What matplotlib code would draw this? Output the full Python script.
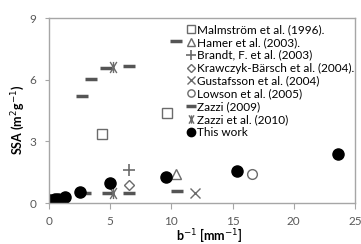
import numpy as np
import matplotlib
matplotlib.use("Agg")
import matplotlib.pyplot as plt
from matplotlib.path import Path

plt.rcParams['font.family'] = ['Lato', 'DejaVu Sans']

# data: b^-1 [mm^-1], SSA [m2/g]
malm_x, malm_y = [4.3, 9.6], [3.37, 4.38]
hamer_x, hamer_y = [10.4], [1.41]
brandt_x, brandt_y = [6.5], [1.6]
kraw_x, kraw_y = [6.5], [0.88]
gust_x, gust_y = [11.9], [0.47]
lowson_x, lowson_y = [16.6], [1.41]
zazzi09_x = [2.67, 3.4, 4.65, 6.56, 10.4, 2.94, 4.85, 6.56, 10.43]
zazzi09_y = [5.2, 6.05, 6.57, 6.67, 7.9, 0.47, 0.47, 0.47, 0.6]
zazzi10_x, zazzi10_y = [5.2, 5.2], [6.6, 0.47]
work_x = [0.08, 0.5, 0.76, 1.3, 2.53, 4.98, 9.56, 15.33, 23.6]
work_y = [0.15, 0.18, 0.21, 0.3, 0.55, 0.95, 1.28, 1.57, 2.38]

xticks = [0, 5, 10, 15, 20, 25]
yticks = [0, 3, 6, 9]

# vertical bar with an X through it
zh = Path([(0, -1), (0, 1), (-0.6, -1), (0.6, 1), (-0.6, 1), (0.6, -1)],
          [Path.MOVETO, Path.LINETO] * 3)

gr = '#6b6b6b'
fig = plt.figure(figsize=(3.61, 2.44), dpi=100)
ax = fig.add_axes([0.136, 0.168, 0.847, 0.758])

ax.plot(malm_x, malm_y, 's', ms=7, mfc='none', mec=gr, mew=1, ls='none', label='Malmstr\u00f6m et al. (1996).')
ax.plot(hamer_x, hamer_y, '^', ms=7, mfc='none', mec=gr, mew=1, ls='none', label='Hamer et al. (2003).')
ax.plot(brandt_x, brandt_y, '+', ms=9, mec=gr, mew=1.2, ls='none', label='Brandt, F. et al. (2003)')
ax.plot(kraw_x, kraw_y, 'D', ms=5, mfc='none', mec=gr, mew=1, ls='none', label='Krawczyk-B\u00e4rsch et al. (2004).')
ax.plot(gust_x, gust_y, 'x', ms=7, mec=gr, mew=1, ls='none', label='Gustafsson et al. (2004)')
ax.plot(lowson_x, lowson_y, 'o', ms=7, mfc='none', mec=gr, mew=1, ls='none', label='Lowson et al. (2005)')
ax.plot(zazzi09_x, zazzi09_y, '_', ms=9, mec='#555555', mew=2.5, ls='none', label='Zazzi (2009)')
ax.plot(zazzi10_x, zazzi10_y, marker=zh, ms=8, mec=gr, mew=1, ls='none', label='Zazzi et al. (2010)')
ax.plot(work_x, work_y, 'o', ms=8, color='black', ls='none', label='This work')

ax.set_xlim(0, 25)
ax.set_ylim(0, 9)
ax.set_xticks(xticks)
ax.set_yticks(yticks)
for s in ax.spines.values():
    s.set_color('#a6a6a6')
    s.set_linewidth(1)
ax.tick_params(axis='x', direction='out', length=4, color='#a6a6a6', pad=5, labelsize=8.5, labelcolor='#595959')
ax.tick_params(axis='y', direction='out', length=3, color='#a6a6a6', pad=6, labelsize=8.5, labelcolor='#595959')

ax.set_xlabel('b$^{-1}$ [mm$^{-1}$]', fontsize=9, fontweight='bold', va='bottom')
ax.xaxis.set_label_coords(0.525, -0.22)
ax.set_ylabel('SSA (m$^{2}$g$^{-1}$)', fontsize=9, fontweight='bold', va='center')
ax.yaxis.set_label_coords(-0.1, 0.45)

leg = ax.legend(loc='upper left', bbox_to_anchor=(0.43, 1.0), frameon=False, fontsize=8.5,
                handlelength=0.7, handletextpad=0.2, labelspacing=0.16, borderaxespad=0.1,
                markerscale=0.75)

fig.savefig('out.png', dpi=100)
